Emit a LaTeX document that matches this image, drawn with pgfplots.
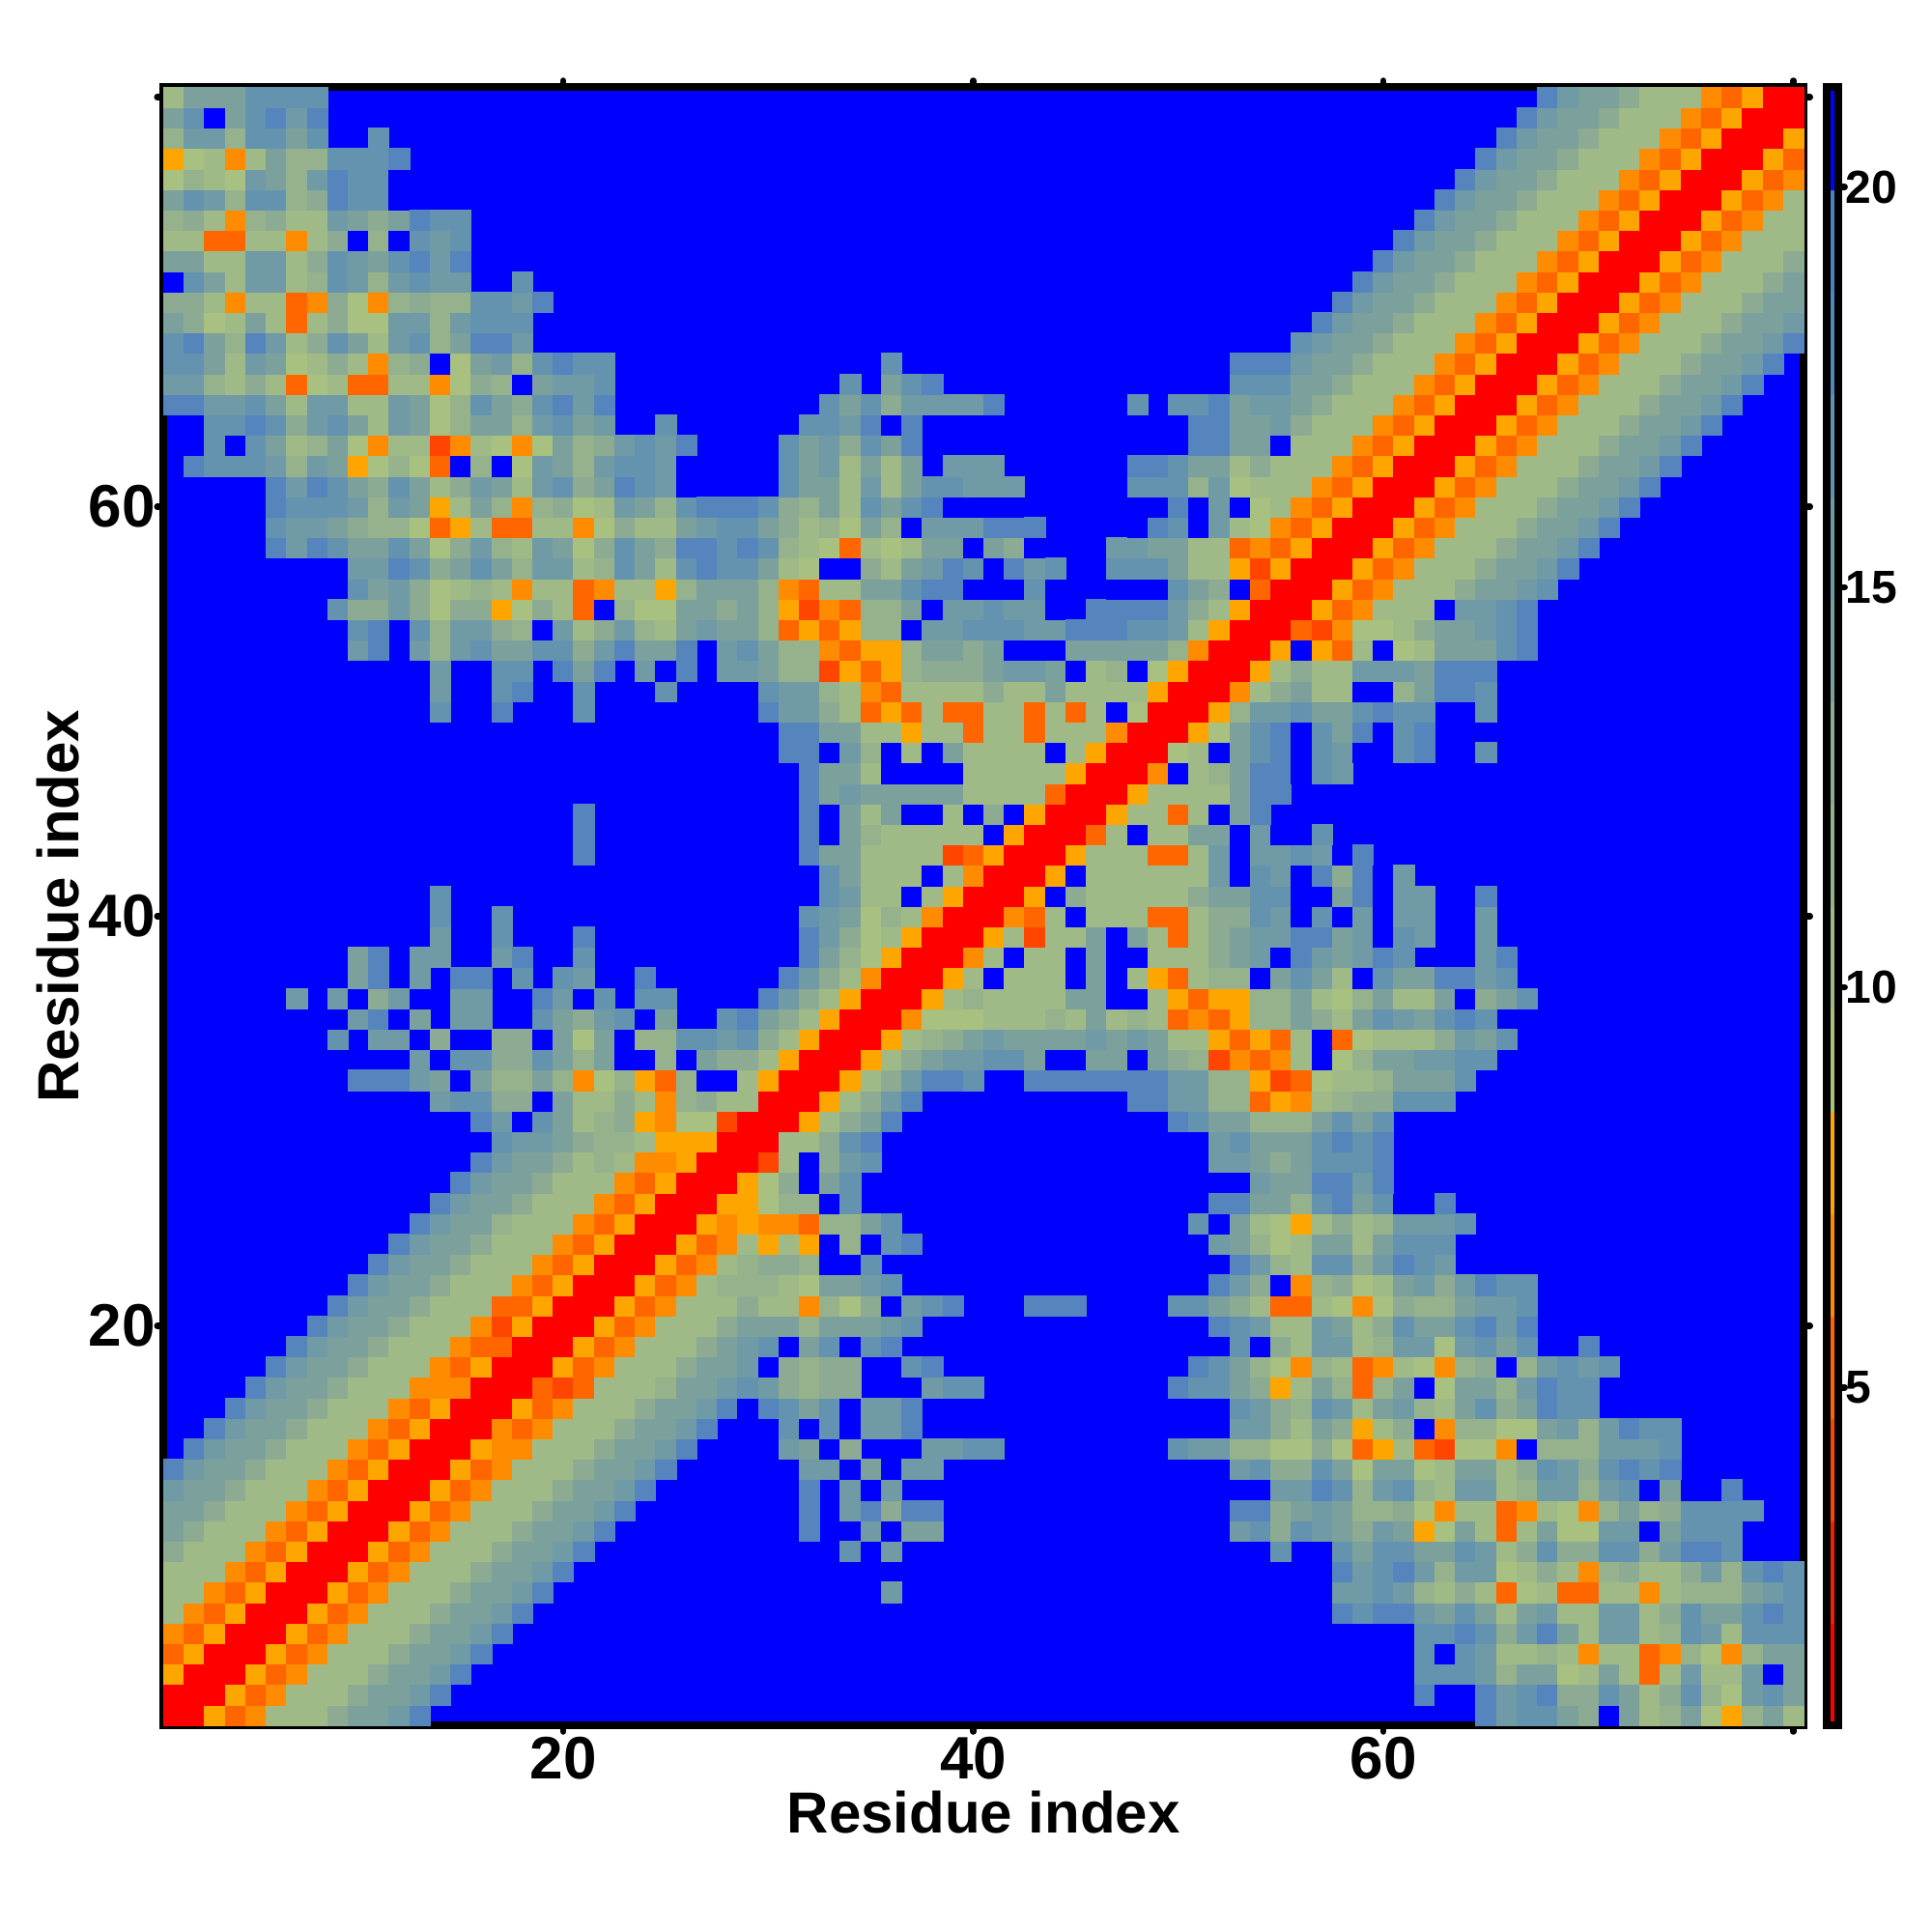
\documentclass[border=0pt]{standalone}
\usepackage{fontspec}
\setmainfont{Liberation Sans}
\usepackage{pgfplots}
\pgfplotsset{compat=1.18}
\pgfplotsset{cell/.style={scatter,only marks,mark=square*,mark size=2.1225pt,point meta=explicit,forget plot,
  scatter/use mapped color={draw=mapped color,fill=mapped color},mark options={line width=0.1pt}}}
\newcommand\R[3]{%
 \addplot[cell] table[row sep=\\,header=false,x expr=\coordindex+#2,y expr=#1,meta index=0]{#3};
 \addplot[cell] table[row sep=\\,header=false,x expr=#1,y expr=\coordindex+#2,meta index=0]{#3};}
\begin{document}
\begin{tikzpicture}
\path[use as bounding box] (-33.85pt,-42.8pt) rectangle (366.15pt,357.2pt);
\begin{axis}[scale only axis,width=339.6pt,height=339.2pt,
 xmin=0.5,xmax=80.5,ymin=0.5,ymax=80.5,
 axis on top,axis line style={line width=1.5pt},
 axis background/.style={fill=blue},
 xtick={20,40,60,80},xticklabels={20,40,60,{}},
 ytick={20,40,60,80},yticklabels={20,40,60,{}},
 tick align=outside,major tick length=1.3pt,
 tick style={line width=1.3pt,black,line cap=round},
 /pgf/number format/assume math mode=true,
 tick label style={font=\fontsize{12.4}{12.4}\selectfont\bfseries},
 xticklabel style={yshift=2.3pt},
 yticklabel style={xshift=3.1pt},
 xlabel={Residue index},ylabel={Residue index},
 label style={font=\fontsize{12}{12}\selectfont\bfseries},
 xlabel style={at={(axis description cs:0.5,-0.0530)},anchor=center},
 ylabel style={at={(axis description cs:-0.0645,0.5)},anchor=center},
 point meta min=0.78,point meta max=21.25,
 colormap={contact}{
  rgb255(0)=(255,0,0) rgb255(0.99)=(255,0,0)
  rgb255(1)=(245,30,0) rgb255(1.99)=(245,30,0)
  rgb255(2)=(255,69,0) rgb255(2.99)=(255,69,0)
  rgb255(3)=(255,102,0) rgb255(3.99)=(255,102,0)
  rgb255(4)=(255,140,0) rgb255(4.99)=(255,140,0)
  rgb255(5)=(255,165,0) rgb255(5.99)=(255,165,0)
  rgb255(6)=(168,192,128) rgb255(6.99)=(168,192,128)
  rgb255(7)=(160,186,135) rgb255(7.99)=(160,186,135)
  rgb255(8)=(150,178,140) rgb255(8.99)=(150,178,140)
  rgb255(9)=(140,171,146) rgb255(9.99)=(140,171,146)
  rgb255(10)=(124,161,156) rgb255(10.99)=(124,161,156)
  rgb255(11)=(111,154,166) rgb255(11.99)=(111,154,166)
  rgb255(12)=(100,147,175) rgb255(12.99)=(100,147,175)
  rgb255(13)=(85,133,188) rgb255(13.99)=(85,133,188)
  rgb255(14)=(77,127,196) rgb255(14.99)=(77,127,196)
  rgb255(15)=(0,0,255) rgb255(16)=(0,0,255)},
 colorbar right,
 colorbar style={at={(1.0141,0)},anchor=south west,width=2.4pt,height=339.2pt,scale only axis,
  ytick={5,10,15,20},ymin=0.78,ymax=21.25,
  axis line style={line width=1.5pt},
  ytick pos=right,yticklabel pos=right,xtick=\empty,
  tick align=outside,major tick length=1.3pt,
  tick style={line width=1.3pt,black,line cap=round},
  yticklabel style={font=\fontsize{9.6}{9.6}\selectfont\bfseries,xshift=-3.3pt},
  /pgf/number format/assume math mode=true},
]
\R{1}{1}{1\\1\\8\\5\\6\\10\\10\\10\\13\\14\\14\\15\\18\\}
\R{1}{65}{18\\15\\17\\17\\14\\13\\21\\14\\10\\12\\14\\9\\8\\12\\14\\10\\}
\R{2}{2}{1\\1\\8\\5\\6\\10\\10\\10\\13\\14\\14\\15\\18\\}
\R{2}{62}{18\\21\\21\\18\\15\\17\\18\\13\\13\\17\\14\\10\\13\\17\\12\\9\\15\\17\\14\\}
\R{3}{3}{1\\1\\8\\5\\6\\10\\10\\10\\13\\14\\14\\15\\18\\}
\R{3}{62}{17\\17\\17\\15\\12\\14\\14\\9\\10\\14\\10\\5\\10\\15\\10\\10\\15\\21\\14\\}
\R{4}{4}{1\\1\\8\\5\\6\\10\\10\\10\\13\\14\\14\\15\\18\\}
\R{4}{62}{17\\21\\17\\15\\10\\10\\12\\10\\6\\10\\10\\5\\6\\12\\9\\6\\12\\14\\14\\}
\R{5}{5}{1\\1\\8\\5\\6\\10\\10\\10\\13\\14\\14\\15\\18\\}
\R{5}{62}{17\\17\\18\\17\\13\\15\\18\\14\\10\\15\\15\\10\\12\\17\\15\\10\\17\\17\\17\\}
\R{6}{6}{1\\1\\8\\5\\6\\10\\10\\10\\13\\14\\14\\15\\18\\}
\R{6}{58}{18\\17\\18\\18\\15\\14\\17\\14\\10\\14\\15\\10\\10\\15\\15\\10\\13\\17\\14\\14\\17\\18\\17\\}
\R{7}{7}{1\\1\\8\\5\\6\\10\\10\\10\\13\\14\\14\\15\\18\\}
\R{7}{36}{15\\}
\R{7}{58}{15\\15\\17\\15\\12\\10\\13\\10\\5\\9\\10\\5\\5\\10\\10\\6\\10\\12\\12\\12\\14\\15\\17\\}
\R{8}{8}{1\\1\\8\\5\\6\\10\\10\\10\\13\\14\\14\\15\\18\\}
\R{8}{58}{18\\15\\17\\18\\15\\12\\15\\15\\9\\10\\13\\10\\6\\12\\13\\10\\10\\13\\15\\12\\17\\18\\17\\}
\R{9}{9}{1\\1\\8\\5\\6\\10\\10\\10\\13\\14\\14\\15\\18\\}
\R{9}{34}{17\\21\\15\\}
\R{9}{55}{17\\}
\R{9}{58}{17\\14\\17\\17\\14\\14\\17\\15\\10\\13\\17\\13\\13\\17\\17\\13\\15\\18\\18\\17\\}
\R{10}{10}{1\\1\\8\\5\\6\\10\\10\\10\\13\\14\\14\\15\\18\\}
\R{10}{32}{18\\}
\R{10}{35}{15\\21\\14\\14\\}
\R{10}{53}{15\\17\\13\\17\\15\\14\\13\\15\\14\\8\\9\\14\\10\\5\\10\\14\\9\\9\\15\\15\\21\\14\\17\\17\\17\\}
\R{11}{11}{1\\1\\8\\5\\6\\10\\10\\10\\13\\14\\14\\15\\18\\}
\R{11}{32}{18\\}
\R{11}{34}{15\\18\\13\\18\\18\\}
\R{11}{53}{18\\18\\13\\14\\15\\14\\12\\12\\13\\9\\6\\10\\10\\5\\6\\10\\9\\6\\12\\14\\12\\13\\17\\17\\17\\17\\}
\R{12}{12}{1\\1\\8\\5\\6\\10\\10\\10\\13\\14\\14\\15\\18\\}
\R{12}{32}{18\\}
\R{12}{34}{15\\21\\15\\}
\R{12}{55}{15\\15\\18\\17\\12\\15\\17\\12\\10\\15\\15\\10\\12\\15\\15\\12\\15\\17\\21\\14\\21\\21\\18\\}
\R{13}{13}{1\\1\\8\\5\\6\\10\\10\\10\\13\\14\\14\\15\\18\\}
\R{13}{32}{15\\15\\21\\14\\21\\15\\15\\}
\R{13}{53}{15\\17\\13\\13\\17\\14\\9\\14\\14\\9\\10\\14\\14\\10\\13\\17\\15\\13\\17\\18\\17\\18\\}
\R{14}{14}{1\\1\\8\\6\\6\\10\\10\\10\\13\\14\\14\\15\\18\\}
\R{14}{31}{15\\14\\21\\13\\}
\R{14}{38}{15\\15\\17\\17\\}
\R{14}{50}{17\\15\\15\\12\\12\\9\\9\\13\\9\\5\\8\\10\\5\\4\\9\\9\\6\\21\\12\\12\\12\\15\\15\\15\\17\\}
\R{15}{15}{1\\1\\6\\5\\6\\10\\10\\10\\13\\14\\14\\15\\18\\}
\R{15}{31}{17\\21\\17\\21\\15\\15\\18\\}
\R{15}{53}{15\\15\\13\\10\\14\\13\\8\\10\\13\\21\\6\\12\\12\\9\\9\\14\\15\\12\\15\\18\\17\\17\\}
\R{16}{16}{1\\1\\8\\5\\6\\10\\10\\10\\13\\14\\14\\15\\18\\21\\18\\17\\14\\17\\21\\15\\15\\18\\}
\R{16}{53}{17\\15\\13\\12\\17\\15\\10\\14\\15\\12\\10\\14\\17\\13\\14\\18\\17\\17\\}
\R{17}{17}{1\\1\\5\\4\\5\\10\\10\\10\\12\\14\\14\\15\\17\\15\\13\\12\\13\\13\\}
\R{17}{38}{15\\17\\17\\}
\R{17}{50}{18\\17\\17\\14\\13\\8\\10\\14\\12\\5\\12\\14\\21\\9\\14\\14\\12\\15\\18\\17\\17\\}
\R{18}{18}{1\\1\\8\\5\\6\\10\\10\\10\\13\\14\\14\\15\\21\\13\\12\\13\\13\\}
\R{18}{37}{17\\18\\}
\R{18}{51}{18\\17\\14\\12\\9\\6\\12\\10\\5\\6\\10\\9\\6\\12\\13\\21\\12\\15\\17\\15\\17\\}
\R{19}{19}{1\\1\\8\\5\\6\\10\\10\\10\\13\\14\\15\\17\\21\\14\\17\\21\\17\\18\\}
\R{19}{53}{17\\21\\13\\10\\15\\15\\10\\12\\15\\15\\9\\15\\17\\14\\17\\}
\R{19}{70}{18\\}
\R{20}{20}{1\\1\\8\\5\\6\\10\\10\\10\\13\\14\\14\\14\\12\\14\\14\\14\\15\\17\\}
\R{20}{52}{18\\17\\15\\10\\10\\15\\14\\10\\13\\17\\14\\14\\17\\18\\15\\18\\}
\R{21}{21}{1\\1\\8\\5\\6\\10\\10\\10\\13\\10\\10\\6\\12\\9\\13\\21\\15\\17\\18\\}
\R{21}{43}{18\\18\\18\\}
\R{21}{50}{17\\17\\14\\13\\10\\5\\5\\10\\9\\6\\9\\13\\12\\12\\14\\15\\15\\17\\}
\R{22}{22}{1\\1\\8\\5\\6\\10\\12\\12\\12\\10\\9\\14\\14\\15\\17\\}
\R{22}{52}{18\\15\\13\\21\\6\\12\\13\\9\\10\\14\\15\\13\\15\\18\\17\\17\\}
\R{23}{23}{1\\1\\8\\5\\6\\10\\12\\13\\13\\12\\21\\21\\17\\}
\R{23}{53}{18\\15\\12\\10\\17\\17\\13\\15\\18\\17\\15\\}
\R{24}{24}{1\\1\\8\\5\\6\\10\\8\\10\\8\\21\\12\\21\\17\\18\\}
\R{24}{52}{15\\14\\12\\9\\10\\14\\14\\10\\14\\17\\17\\17\\}
\R{25}{25}{1\\1\\8\\6\\8\\6\\6\\5\\12\\12\\14\\17\\}
\R{25}{51}{17\\21\\14\\10\\9\\8\\10\\13\\10\\12\\15\\15\\15\\17\\}
\R{26}{26}{1\\1\\8\\8\\9\\12\\12\\21\\17\\}
\R{26}{52}{18\\18\\14\\14\\12\\17\\18\\14\\17\\21\\21\\18\\}
\R{27}{27}{1\\1\\8\\9\\13\\21\\14\\17\\}
\R{27}{54}{15\\14\\14\\18\\18\\15\\18\\}
\R{28}{28}{1\\1\\4\\10\\21\\13\\15\\17\\}
\R{28}{52}{15\\15\\14\\13\\14\\17\\17\\17\\18\\}
\R{29}{29}{1\\1\\10\\10\\13\\17\\18\\}
\R{29}{52}{15\\17\\14\\14\\14\\17\\18\\17\\18\\}
\R{30}{30}{1\\1\\8\\10\\13\\14\\18\\}
\R{30}{50}{18\\17\\14\\14\\12\\12\\12\\14\\17\\14\\17\\}
\R{31}{31}{1\\1\\8\\10\\13\\15\\18\\}
\R{31}{48}{18\\18\\15\\15\\12\\12\\5\\8\\6\\10\\12\\13\\13\\17\\17\\17\\}
\R{32}{32}{1\\1\\8\\10\\13\\15\\18\\18\\17\\}
\R{32}{43}{18\\18\\18\\18\\18\\18\\18\\15\\15\\12\\12\\8\\4\\5\\9\\10\\10\\12\\14\\14\\14\\17\\}
\R{33}{33}{1\\1\\8\\10\\13\\14\\15\\15\\17\\17\\14\\21\\21\\14\\14\\21\\14\\13\\12\\4\\6\\5\\6\\10\\21\\9\\12\\14\\14\\15\\15\\17\\17\\}
\R{34}{34}{1\\1\\8\\10\\12\\13\\14\\15\\14\\14\\14\\14\\15\\14\\15\\14\\10\\10\\8\\5\\8\\5\\10\\21\\5\\9\\10\\10\\10\\13\\15\\14\\17\\}
\R{35}{35}{1\\1\\6\\9\\9\\9\\10\\10\\10\\12\\10\\14\\10\\12\\10\\5\\6\\5\\8\\12\\12\\14\\13\\10\\14\\17\\15\\14\\17\\18\\17\\}
\R{36}{36}{1\\1\\8\\10\\12\\10\\10\\10\\10\\14\\14\\21\\21\\10\\8\\5\\8\\8\\12\\12\\14\\10\\9\\12\\14\\10\\10\\14\\21\\13\\14\\17\\}
\R{37}{37}{1\\1\\8\\10\\21\\10\\10\\10\\21\\14\\21\\10\\8\\5\\10\\12\\12\\21\\14\\17\\14\\10\\21\\17\\14\\14\\18\\18\\15\\17\\}
\R{38}{38}{1\\1\\6\\10\\21\\10\\10\\21\\14\\21\\21\\10\\10\\10\\13\\14\\15\\21\\18\\15\\14\\15\\18\\17\\}
\R{38}{65}{15\\18\\}
\R{39}{39}{1\\1\\8\\10\\4\\10\\10\\14\\21\\14\\10\\5\\10\\13\\14\\15\\15\\18\\18\\14\\15\\21\\17\\15\\}
\R{39}{65}{15\\}
\R{40}{40}{1\\1\\6\\5\\10\\21\\10\\10\\10\\5\\5\\10\\13\\13\\17\\15\\21\\17\\21\\15\\21\\15\\15\\}
\R{40}{65}{15\\}
\R{41}{41}{1\\1\\8\\21\\13\\10\\10\\10\\10\\10\\13\\14\\14\\17\\17\\21\\21\\14\\18\\21\\15\\15\\}
\R{41}{65}{18\\}
\R{42}{42}{1\\1\\8\\21\\10\\10\\10\\10\\10\\10\\15\\21\\17\\15\\21\\18\\13\\18\\21\\15\\}
\R{43}{43}{1\\1\\8\\10\\10\\10\\5\\5\\10\\15\\21\\15\\15\\17\\15\\21\\18\\}
\R{44}{44}{1\\1\\5\\10\\21\\10\\10\\14\\14\\21\\15\\21\\21\\17\\}
\R{45}{45}{1\\1\\8\\10\\10\\5\\10\\21\\14\\18\\}
\R{46}{46}{1\\1\\8\\10\\10\\10\\10\\14\\18\\18\\}
\R{47}{47}{1\\1\\6\\21\\10\\12\\14\\18\\18\\21\\17\\15\\}
\R{48}{48}{1\\1\\9\\10\\21\\14\\17\\18\\21\\17\\15\\21\\21\\17\\18\\}
\R{48}{65}{17\\}
\R{49}{49}{1\\1\\8\\9\\14\\17\\18\\21\\17\\14\\18\\21\\17\\18\\}
\R{50}{50}{1\\1\\8\\12\\15\\15\\17\\14\\14\\17\\18\\17\\17\\}
\R{50}{65}{17\\}
\R{51}{51}{1\\1\\6\\10\\13\\14\\10\\10\\21\\21\\12\\14\\18\\18\\17\\}
\R{52}{52}{1\\1\\8\\10\\13\\10\\10\\15\\15\\15\\14\\18\\18\\18\\}
\R{53}{53}{1\\1\\8\\21\\8\\5\\10\\21\\9\\10\\14\\14\\14\\17\\18\\}
\R{54}{54}{1\\1\\5\\4\\6\\9\\9\\10\\13\\14\\14\\15\\17\\18\\}
\R{55}{55}{1\\1\\8\\5\\6\\10\\10\\10\\21\\15\\15\\17\\18\\}
\R{56}{56}{1\\1\\8\\5\\6\\10\\10\\10\\13\\14\\14\\15\\17\\}
\R{57}{57}{1\\1\\8\\5\\6\\10\\10\\10\\13\\14\\14\\15\\18\\}
\R{58}{58}{1\\1\\8\\5\\6\\10\\10\\10\\13\\14\\14\\15\\18\\}
\R{59}{59}{1\\1\\8\\5\\6\\10\\10\\10\\13\\14\\14\\15\\18\\}
\R{60}{60}{1\\1\\8\\5\\6\\10\\10\\10\\13\\14\\14\\15\\18\\}
\R{61}{61}{1\\1\\8\\5\\6\\10\\10\\10\\13\\14\\14\\15\\18\\}
\R{62}{62}{1\\1\\8\\5\\6\\10\\10\\10\\13\\14\\14\\15\\18\\}
\R{63}{63}{1\\1\\8\\5\\6\\10\\10\\10\\13\\14\\14\\15\\18\\}
\R{64}{64}{1\\1\\8\\5\\6\\10\\10\\10\\13\\14\\14\\15\\18\\}
\R{65}{65}{1\\1\\8\\5\\6\\10\\10\\10\\13\\14\\14\\15\\18\\}
\R{66}{66}{1\\1\\8\\5\\6\\10\\10\\10\\13\\14\\14\\15\\18\\}
\R{67}{67}{1\\1\\8\\5\\6\\10\\10\\10\\13\\14\\14\\15\\18\\}
\R{68}{68}{1\\1\\8\\5\\6\\10\\10\\10\\13\\14\\14\\15\\18\\}
\R{69}{69}{1\\1\\8\\5\\6\\10\\10\\10\\13\\14\\14\\15\\}
\R{70}{70}{1\\1\\8\\5\\6\\10\\10\\10\\13\\14\\14\\}
\R{71}{71}{1\\1\\8\\5\\6\\10\\10\\10\\13\\14\\}
\R{72}{72}{1\\1\\8\\5\\6\\10\\10\\10\\13\\}
\R{73}{73}{1\\1\\8\\5\\6\\10\\10\\10\\}
\R{74}{74}{1\\1\\8\\5\\6\\10\\10\\}
\R{75}{75}{1\\1\\8\\5\\6\\10\\}
\R{76}{76}{1\\1\\8\\5\\6\\}
\R{77}{77}{1\\1\\8\\5\\}
\R{78}{78}{1\\1\\8\\}
\R{79}{79}{1\\1\\}
\R{80}{80}{1\\}
\end{axis}
\end{tikzpicture}
\end{document}
